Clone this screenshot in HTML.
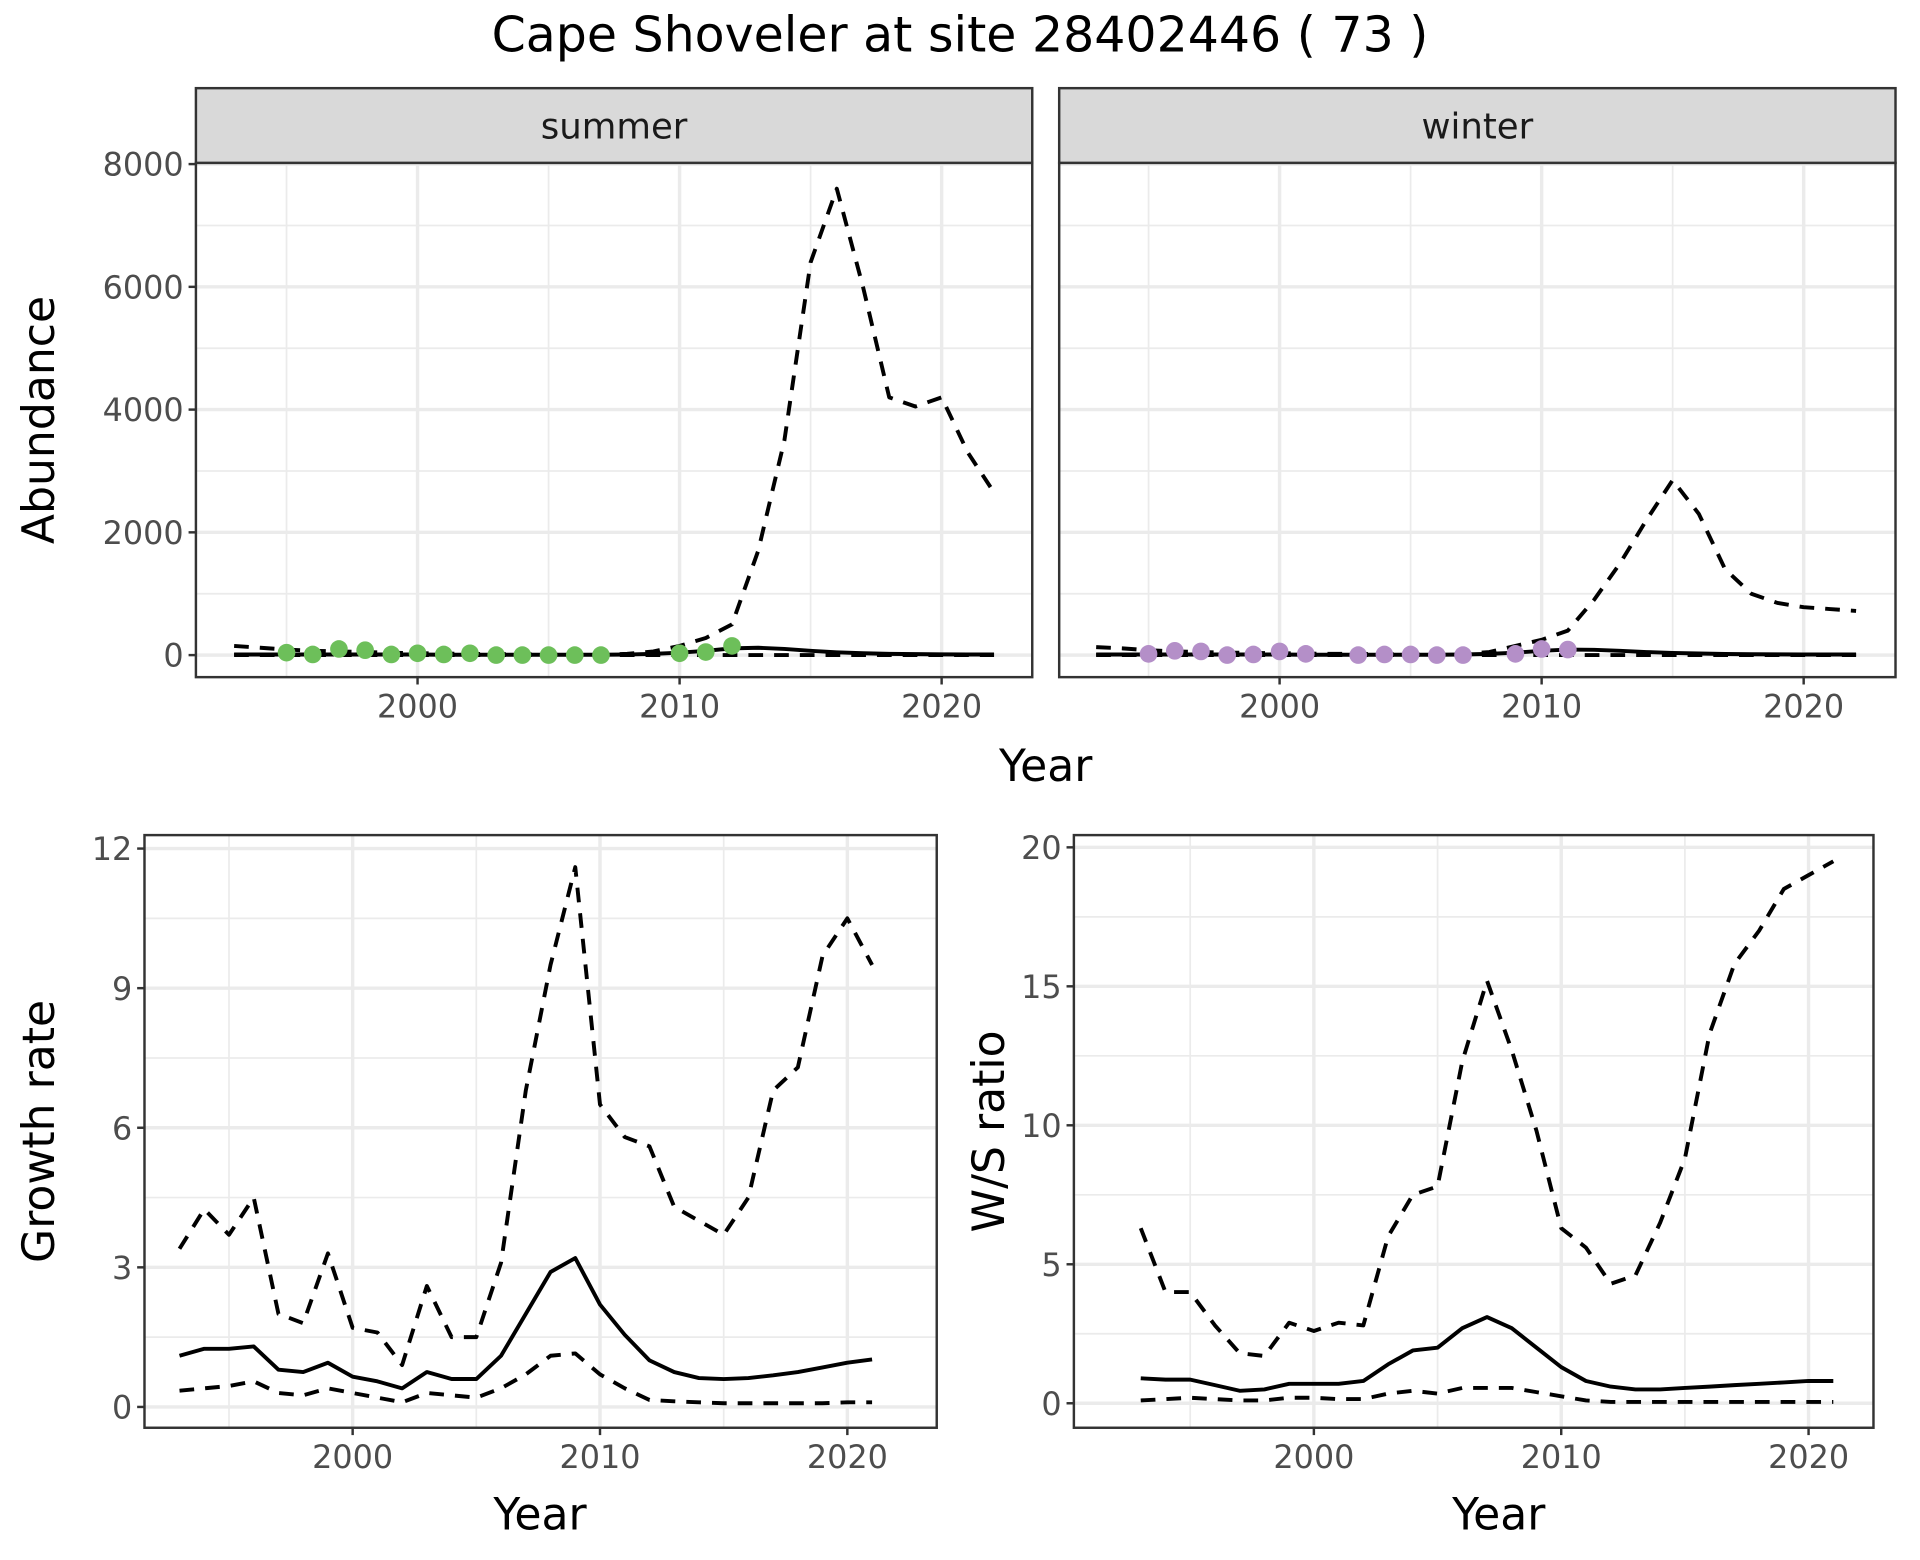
<!DOCTYPE html>
<html><head><meta charset="utf-8"><style>
html,body{margin:0;padding:0;background:#fff}
svg{display:block}
text{font-family:"DejaVu Sans","Liberation Sans",sans-serif}
</style></head><body>
<svg id="chart" width="1920" height="1560" viewBox="0 0 1568 1274" xmlns="http://www.w3.org/2000/svg">
<rect width="1568" height="1274" fill="#fff"/>
<text x="784" y="42" font-size="40" text-anchor="middle" fill="#000">Cape Shoveler at site 28402446 ( 73 )</text>
</svg>
<script>
const years = [1993,1994,1995,1996,1997,1998,1999,2000,2001,2002,2003,2004,2005,2006,2007,2008,2009,2010,2011,2012,2013,2014,2015,2016,2017,2018,2019,2020,2021,2022];
const summerUpper = [150,120,90,70,60,50,40,30,25,20,15,15,10,10,10,20,60,150,280,500,1700,3500,6400,7600,6000,4200,4050,4200,3300,2650];
const summerMid = [10,10,10,10,10,10,10,10,5,5,5,5,5,5,5,10,20,40,70,110,120,100,70,45,30,20,15,12,10,10];
const summerLower = [0,0,0,0,0,0,0,0,0,0,0,0,0,0,0,0,0,0,0,0,0,0,0,0,0,0,0,0,0,0];
const summerObsYears = [1995,1996,1997,1998,1999,2000,2001,2002,2003,2004,2005,2006,2007,2010,2011,2012];
const summerObs = [40,10,100,80,10,30,10,30,0,0,0,0,0,30,50,150];
const winterUpper = [130,110,80,60,50,40,35,30,25,20,20,15,15,15,20,50,150,250,400,900,1500,2200,2850,2300,1400,1000,850,780,750,720];
const winterMid = [10,10,10,10,10,10,10,10,5,5,5,5,5,5,10,20,40,70,90,85,70,50,35,25,18,14,12,10,10,10];
const winterLower = [0,0,0,0,0,0,0,0,0,0,0,0,0,0,0,0,0,0,0,0,0,0,0,0,0,0,0,0,0,0];
const winterObsYears = [1995,1996,1997,1998,1999,2000,2001,2003,2004,2005,2006,2007,2009,2010,2011];
const winterObs = [20,70,60,0,10,60,20,0,10,10,0,0,20,100,90];
const rateYears = [1993,1994,1995,1996,1997,1998,1999,2000,2001,2002,2003,2004,2005,2006,2007,2008,2009,2010,2011,2012,2013,2014,2015,2016,2017,2018,2019,2020,2021];
const growthMid = [1.1,1.25,1.25,1.3,0.8,0.75,0.95,0.65,0.55,0.4,0.75,0.6,0.6,1.1,2.0,2.9,3.2,2.2,1.55,1.0,0.75,0.62,0.6,0.62,0.68,0.75,0.85,0.95,1.02];
const growthUpper = [3.4,4.25,3.7,4.5,2.0,1.8,3.3,1.7,1.6,0.9,2.6,1.5,1.5,3.1,6.8,9.5,11.6,6.5,5.8,5.6,4.3,4.0,3.7,4.5,6.8,7.3,9.7,10.5,9.5];
const growthLower = [0.35,0.4,0.45,0.55,0.3,0.25,0.4,0.3,0.2,0.1,0.3,0.25,0.2,0.4,0.7,1.1,1.15,0.7,0.4,0.15,0.12,0.1,0.08,0.08,0.08,0.08,0.08,0.1,0.1];
const ratioMid = [0.9,0.85,0.85,0.65,0.45,0.5,0.7,0.7,0.7,0.8,1.4,1.9,2.0,2.7,3.1,2.7,2.0,1.3,0.8,0.6,0.5,0.5,0.55,0.6,0.65,0.7,0.75,0.8,0.8];
const ratioUpper = [6.3,4.0,4.0,2.8,1.8,1.7,2.9,2.6,2.9,2.8,6.0,7.5,7.8,12.3,15.2,12.7,9.8,6.3,5.6,4.3,4.6,6.5,8.8,13.3,15.8,17.0,18.5,19.0,19.5];
const ratioLower = [0.1,0.15,0.2,0.15,0.1,0.1,0.2,0.2,0.15,0.15,0.35,0.45,0.35,0.55,0.55,0.55,0.4,0.25,0.1,0.05,0.05,0.05,0.05,0.05,0.05,0.05,0.05,0.05,0.05];
const xTicks = [2000,2010,2020];
const xMinor = [1995,2005,2015];
const abTicks = [0,2000,4000,6000,8000];
const grTicks = [0,3,6,9,12];
const wsTicks = [0,5,10,15,20];

const svg = document.getElementById('chart');
const NS = 'http://www.w3.org/2000/svg';
function mk(tag, attrs, parent){const e=document.createElementNS(NS,tag);for(const k in attrs)e.setAttribute(k,attrs[k]);(parent||svg).appendChild(e);return e;}
function txt(s,attrs,parent){const e=mk('text',attrs,parent);e.textContent=s;return e;}

function panel(cfg){
  const g = mk('g',{});
  
  
  const sx = v => cfg.x0 + (v - cfg.xv0) * (cfg.x1 - cfg.x0) / (cfg.xv1 - cfg.xv0);
  const sy = v => cfg.y0 + (v - cfg.yv0) * (cfg.y1 - cfg.y0) / (cfg.yv1 - cfg.yv0);
  mk('rect',{x:cfg.L,y:cfg.T,width:cfg.R-cfg.L,height:cfg.B-cfg.T,fill:'#fff'},g);
  xMinor.forEach(v=>mk('line',{x1:sx(v),x2:sx(v),y1:cfg.T,y2:cfg.B,stroke:'#ebebeb','stroke-width':1.4},g));
  for(let i=0;i<cfg.yt.length-1;i++){const v=(cfg.yt[i]+cfg.yt[i+1])/2;mk('line',{x1:cfg.L,x2:cfg.R,y1:sy(v),y2:sy(v),stroke:'#ebebeb','stroke-width':1.4},g);}
  if(cfg.yt.length>1){const v=cfg.yt[cfg.yt.length-1]+(cfg.yt[1]-cfg.yt[0])/2; if(sy(v)>cfg.T) mk('line',{x1:cfg.L,x2:cfg.R,y1:sy(v),y2:sy(v),stroke:'#ebebeb','stroke-width':1.4},g);}
  xTicks.forEach(v=>mk('line',{x1:sx(v),x2:sx(v),y1:cfg.T,y2:cfg.B,stroke:'#ebebeb','stroke-width':2.8},g));
  cfg.yt.forEach(v=>mk('line',{x1:cfg.L,x2:cfg.R,y1:sy(v),y2:sy(v),stroke:'#ebebeb','stroke-width':2.8},g));
  const pts = (xs,ys)=>xs.map((x,i)=>sx(x).toFixed(1)+','+sy(ys[i]).toFixed(1)).join(' ');
  cfg.series.forEach(s=>{
    const p = mk('polyline',{points:pts(cfg.xs,s.v),fill:'none',stroke:'#000','stroke-width':3.2,'stroke-dasharray':s.dash?'12,9':'none','stroke-linejoin':'round'},g);
    
    
  });
  if(cfg.obs){
    cfg.obs.y.forEach((v,i)=>{
      const c = mk('circle',{cx:sx(cfg.obs.x[i]),cy:sy(v),r:7.2,fill:cfg.obs.color},g);
      
      
    });
  }
  mk('rect',{x:cfg.L,y:cfg.T,width:cfg.R-cfg.L,height:cfg.B-cfg.T,fill:'none',stroke:'#333','stroke-width':2},g);
  if(cfg.strip){
    mk('rect',{x:cfg.L,y:cfg.T-61,width:cfg.R-cfg.L,height:61,fill:'#d9d9d9',stroke:'#333','stroke-width':2},g);
    const st = txt(cfg.strip,{x:(cfg.L+cfg.R)/2,y:cfg.T-20,'font-size':29,'text-anchor':'middle',fill:'#1a1a1a'},g);
    
    
  }
  xTicks.forEach(v=>{
    mk('line',{x1:sx(v),x2:sx(v),y1:cfg.B,y2:cfg.B+6,stroke:'#333','stroke-width':2},g);
    const t = txt(String(v),{x:sx(v),y:cfg.B+33,'font-size':26,'text-anchor':'middle',fill:'#4d4d4d'},g);
    
    
  });
  if(cfg.showY){
    cfg.yt.forEach(v=>{
      mk('line',{x1:cfg.L-6,x2:cfg.L,y1:sy(v),y2:sy(v),stroke:'#333','stroke-width':2},g);
      const t = txt(String(v),{x:cfg.L-10,y:sy(v)+9.5,'font-size':26,'text-anchor':'end',fill:'#4d4d4d'},g);
      
      
    });
  }
  return g;
}

panel({name:'summer-panel',L:160,R:843,T:133,B:553,x0:341,x1:555,xv0:2000,xv1:2010,y0:535,y1:134,yv0:0,yv1:8000,yt:abTicks,xs:years,strip:'summer',showY:true,
  series:[{v:summerUpper,dash:true,name:'summer-upper-line'},{v:summerLower,dash:true,name:'summer-lower-line'},{v:summerMid,dash:false,name:'summer-mid-line'}],
  obs:{x:summerObsYears,y:summerObs,color:'#6dbf5a'}});
panel({name:'winter-panel',L:865,R:1548,T:133,B:553,x0:1045,x1:1259,xv0:2000,xv1:2010,y0:535,y1:134,yv0:0,yv1:8000,yt:abTicks,xs:years,strip:'winter',showY:false,
  series:[{v:winterUpper,dash:true,name:'winter-upper-line'},{v:winterLower,dash:true,name:'winter-lower-line'},{v:winterMid,dash:false,name:'winter-mid-line'}],
  obs:{x:winterObsYears,y:winterObs,color:'#b48fc8'}});
panel({name:'growth-panel',L:118,R:765,T:682,B:1166,x0:288,x1:490,xv0:2000,xv1:2010,y0:1149,y1:693,yv0:0,yv1:12,yt:grTicks,xs:rateYears,showY:true,
  series:[{v:growthUpper,dash:true,name:'growth-upper-line'},{v:growthLower,dash:true,name:'growth-lower-line'},{v:growthMid,dash:false,name:'growth-mid-line'}]});
panel({name:'ratio-panel',L:877,R:1530,T:682,B:1166,x0:1073,x1:1275,xv0:2000,xv1:2010,y0:1146,y1:692,yv0:0,yv1:20,yt:wsTicks,xs:rateYears,showY:true,
  series:[{v:ratioUpper,dash:true,name:'ratio-upper-line'},{v:ratioLower,dash:true,name:'ratio-lower-line'},{v:ratioMid,dash:false,name:'ratio-mid-line'}]});

function title(s,x,y,rot,name){
  const t = txt(s,{x:x,y:y,'font-size':36,'text-anchor':'middle',fill:'#000',transform:rot?`rotate(-90 ${x} ${y})`:''});
  
  
}
title('Abundance',44,343,true,'y-axis-title-abundance');
title('Year',854,638,false,'x-axis-title-top');
title('Growth rate',44,924,true,'y-axis-title-growth');
title('Year',441,1249,false,'x-axis-title-growth');
title('W/S ratio',820,924,true,'y-axis-title-ratio');
title('Year',1224,1249,false,'x-axis-title-ratio');
</script>
</body></html>
